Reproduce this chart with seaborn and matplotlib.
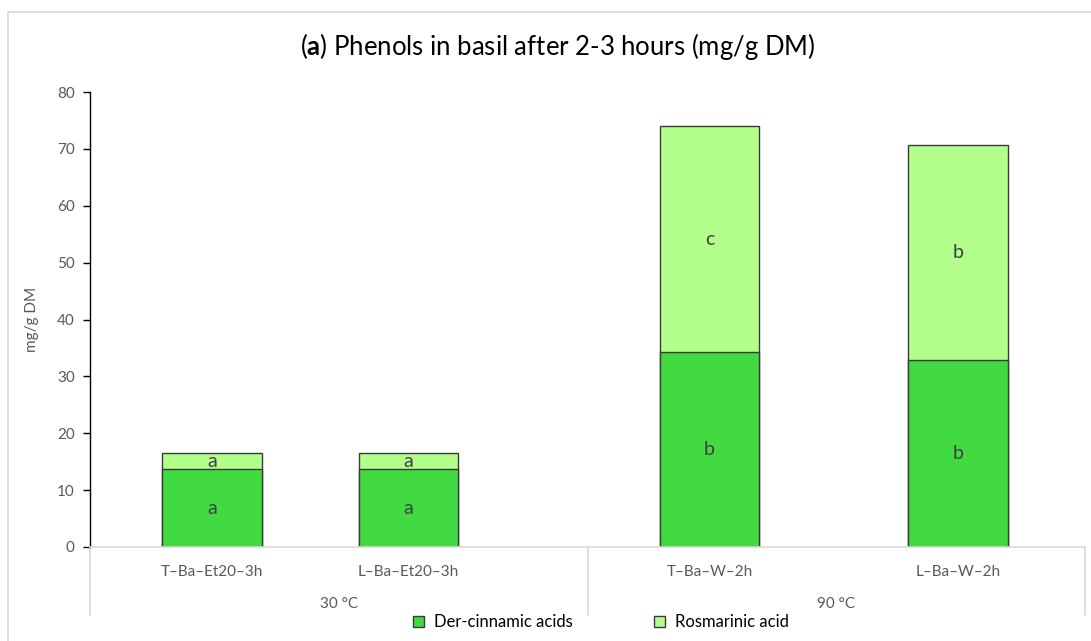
import matplotlib
matplotlib.use("Agg")
import matplotlib.pyplot as plt
from matplotlib.patches import Patch, Rectangle
import seaborn as sns
import pandas as pd

# Data
samples = ["T\u2013Ba\u2013Et20\u20133h", "L\u2013Ba\u2013Et20\u20133h", "T\u2013Ba\u2013W\u20132h", "L\u2013Ba\u2013W\u20132h"]
temperatures = ["30 \u00b0C", "90 \u00b0C"]
der_cinnamic = [13.7, 13.7, 34.3, 32.9]
rosmarinic = [2.8, 2.8, 39.7, 37.8]
der_letters = ["a", "a", "b", "b"]
ros_letters = ["a", "a", "c", "b"]
series_names = ["Der-cinnamic acids", "Rosmarinic acid"]
y_ticks = [0, 10, 20, 30, 40, 50, 60, 70, 80]

# Layout (bar centres along a 0..4 category axis)
bar_pos = [0.49, 1.28, 2.49, 3.49]
bar_width = 0.40

dark_green = "#41DA41"
light_green = "#B2FF8B"
edge = "#3A3A3A"
grey_text = "#595959"

sns.set_theme(style="white")
plt.rcParams["font.family"] = ["Lato", "DejaVu Sans"]
plt.rcParams["mathtext.fontset"] = "custom"
plt.rcParams["mathtext.rm"] = "Lato"
plt.rcParams["mathtext.bf"] = "Lato:bold"

fig = plt.figure(figsize=(10.91, 6.41), dpi=100)
fig.patches.append(Rectangle((8 / 1091, -0.1), 1.2, (641 - 12) / 641 + 0.1,
                             transform=fig.transFigure, fill=False,
                             edgecolor="#D9D9D9", linewidth=1.2))
ax = fig.add_axes([90 / 1091, 94 / 641, 995 / 1091, 455 / 641])

totals = [d + r for d, r in zip(der_cinnamic, rosmarinic)]
df = pd.DataFrame({"pos": bar_pos, "total": totals, "der": der_cinnamic})
min_gap = min(b - a for a, b in zip(sorted(bar_pos)[:-1], sorted(bar_pos)[1:]))
w = bar_width / min_gap

sns.barplot(data=df, x="pos", y="total", native_scale=True, color=light_green,
            saturation=1, edgecolor=edge, linewidth=1, width=w, errorbar=None, ax=ax)
sns.barplot(data=df, x="pos", y="der", native_scale=True, color=dark_green,
            saturation=1, edgecolor=edge, linewidth=1, width=w, errorbar=None, ax=ax)

for p, d, r, ld, lr in zip(bar_pos, der_cinnamic, rosmarinic, der_letters, ros_letters):
    ax.text(p, d / 2, ld, ha="center", va="center", fontsize=14, color="#404040")
    ax.text(p, d + r / 2, lr, ha="center", va="center", fontsize=14, color="#404040")

ax.set_xlim(0, 4)
ax.set_ylim(0, 80)
ax.set_yticks(y_ticks)
ax.set_xticks([])
ax.set_xlabel("")
ax.set_ylabel("mg/g DM", fontsize=11, color=grey_text, labelpad=13)
ax.tick_params(axis="y", direction="out", length=5, width=1, color="black",
               labelsize=11, labelcolor=grey_text, left=True, pad=6)
for s in ["top", "right"]:
    ax.spines[s].set_visible(False)
ax.spines["left"].set_color("black")
ax.spines["left"].set_linewidth(1)
ax.spines["bottom"].set_color("#D9D9D9")
ax.spines["bottom"].set_linewidth(1.2)

# Two-level category axis
xt = ax.get_xaxis_transform()
sep_bottom = -(615 - 547) / 455
for xs in [0, 2, 4]:
    ax.plot([xs, xs], [0, sep_bottom], transform=xt, color="#D9D9D9",
            linewidth=1.2, clip_on=False)
for p, s in zip(bar_pos, samples):
    ax.text(p, -(572 - 547) / 455, s, transform=xt, ha="center", va="center",
            fontsize=11, color=grey_text)
for i, t in enumerate(temperatures):
    ax.text(2 * i + 1, -(604 - 547) / 455, t, transform=xt, ha="center",
            va="center", fontsize=11, color=grey_text)

fig.text(558 / 1091, 1 - 47 / 641, r"($\mathbf{a}$) Phenols in basil after 2-3 hours (mg/g DM)",
         ha="center", va="center", fontsize=18.5, color="black")

handles = [Patch(facecolor=dark_green, edgecolor=edge, linewidth=1),
           Patch(facecolor=light_green, edgecolor=edge, linewidth=1)]
fig.legend(handles, series_names, loc="center", bbox_to_anchor=(601 / 1091, 1 - 622 / 641),
           ncol=2, frameon=False, fontsize=12, handlelength=0.65, handleheight=0.65,
           columnspacing=4.9, handletextpad=0.6, labelcolor="black")

fig.savefig("out.png", dpi=100)
